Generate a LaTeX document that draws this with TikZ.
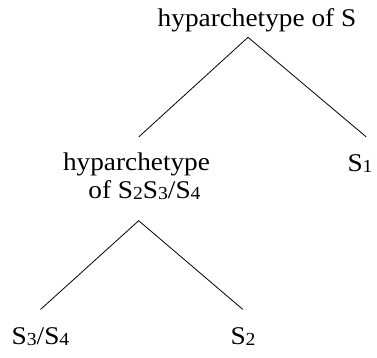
\documentclass[tikz,border=0pt]{standalone}
\usepackage{fontspec}
\usepackage{graphicx}
\setmainfont[FakeStretch=1.07]{Liberation Serif}
% small subscript digits sitting near the baseline
\newcommand\sdig[1]{\raisebox{-0.05em}{\scalebox{0.72}{#1}}}
\begin{document}
\begin{tikzpicture}[x=1pt,y=-1pt,
  lbl/.style={inner sep=0pt,anchor=base,font=\fontsize{25.5}{30}\selectfont},
  branch/.style={line width=0.8pt,line cap=round}]
\useasboundingbox (0,0) rectangle (377,357);
% labels
\node[lbl] (root)  at (257,26)  {hyparchetype of S};
\node[lbl] (mid1)  at (136.5,170) {hyparchetype};
\node[lbl] (mid2)  at (144.5,198) {of S\sdig{2}S\sdig{3}/S\sdig{4}};
\node[lbl] (s1)    at (360,171) {S\sdig{1}};
\node[lbl] (s34)   at (40.5,344) {S\sdig{3}/S\sdig{4}};
\node[lbl] (s2)    at (243,344) {S\sdig{2}};
% branch points
\coordinate (top)  at (248,37.3);
\coordinate (topL) at (139,136.7);
\coordinate (topR) at (366,136.7);
\coordinate (sub)  at (138.7,220.7);
\coordinate (subL) at (40.7,309.3);
\coordinate (subR) at (242.7,309.3);
\draw[branch] (topL) -- (top) -- (topR);
\draw[branch] (subL) -- (sub) -- (subR);
\end{tikzpicture}
\end{document}
